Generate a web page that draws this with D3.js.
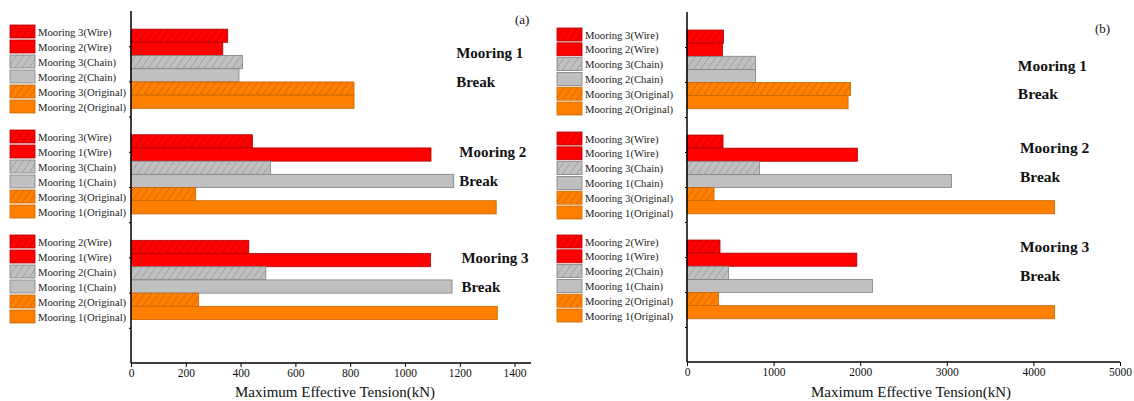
<!DOCTYPE html>
<html>
<head>
<meta charset="utf-8">
<script src="https://cdn.jsdelivr.net/npm/d3@7"></script>
<style>
  html, body { margin: 0; padding: 0; background: #fff; }
  svg text { font-family: "Liberation Serif", "Times New Roman", Times, serif; }
</style>
</head>
<body>
<svg id="chart" width="1134" height="401"></svg>
<script>
// ---- data ----------------------------------------------------------------
// Bar labels per break case (top to bottom inside each group)
const groupLabels = [
  ["Mooring 3(Wire)", "Mooring 2(Wire)", "Mooring 3(Chain)", "Mooring 2(Chain)", "Mooring 3(Original)", "Mooring 2(Original)"],
  ["Mooring 3(Wire)", "Mooring 1(Wire)", "Mooring 3(Chain)", "Mooring 1(Chain)", "Mooring 3(Original)", "Mooring 1(Original)"],
  ["Mooring 2(Wire)", "Mooring 1(Wire)", "Mooring 2(Chain)", "Mooring 1(Chain)", "Mooring 2(Original)", "Mooring 1(Original)"]
];
const breakCases = ["Mooring 1", "Mooring 2", "Mooring 3"];

// Maximum effective tension (kN), panel (a)
const tensionA = [
  [353, 335, 407, 394, 814, 814],
  [443, 1095, 509, 1178, 236, 1333],
  [430, 1093, 492, 1172, 247, 1337]
];
// Maximum effective tension (kN), panel (b)
const tensionB = [
  [421, 409, 790, 790, 1888, 1860],
  [416, 1968, 836, 3055, 312, 4245],
  [381, 1961, 478, 2142, 363, 4245]
];

const ticksA = [0, 200, 400, 600, 800, 1000, 1200, 1400];
const ticksB = [0, 1000, 2000, 3000, 4000, 5000];
const yTicks = [1, 2, 3, 4, 5, 6, 7, 8, 9];
const groupCenters = [8.36, 5.36, 2.36];   // y position of each break case
const axisTitle = "Maximum Effective Tension(kN)";

// ---- styles --------------------------------------------------------------
const FONT = "'Liberation Serif', 'Times New Roman', Times, serif";
const kindStyle = {
  Wire:     { fill: "#ff0000", stroke: "#b40000", hatch: "#c00000" },
  Chain:    { fill: "#c0c0c0", stroke: "#808080", hatch: "#969696" },
  Original: { fill: "#ff8000", stroke: "#c86400", hatch: "#c86400" }
};
const kindOf = label => label.match(/\((\w+)\)/)[1];
const barStep = 0.375;   // bar thickness in y units

const svg = d3.select("#chart").attr("font-family", FONT);
svg.append("rect").attr("width", 1134).attr("height", 401).attr("fill", "#fff");

// hatch patterns ("/" diagonals)
const defs = svg.append("defs");
Object.entries(kindStyle).forEach(([k, s]) => {
  const p = defs.append("pattern")
    .attr("id", "hatch-" + k)
    .attr("patternUnits", "userSpaceOnUse")
    .attr("width", 7).attr("height", 10);
  p.append("rect").attr("width", 7).attr("height", 10).attr("fill", s.fill);
  p.append("path")
    .attr("d", "M0,10 L7,0 M-7,10 L0,0 M7,10 L14,0")
    .attr("stroke", s.hatch).attr("stroke-width", 0.8).attr("fill", "none");
});

function fillFor(label, i) {
  const k = kindOf(label);
  return i % 2 === 0 ? "url(#hatch-" + k + ")" : kindStyle[k].fill;
}

function drawPanel(cfg) {
  const x = d3.scaleLinear().domain(cfg.xDomain).range([cfg.x0, cfg.x1]);
  const y = d3.scaleLinear().domain([0, 10]).range([cfg.yBottom, cfg.yTop]);
  const g = svg.append("g");

  // bars
  const rows = [];
  groupLabels.forEach((labels, gi) => {
    labels.forEach((lab, i) => {
      rows.push({ gi, i, lab, v: cfg.values[gi][i],
        yTopVal: groupCenters[gi] + (3 - i) * barStep });
    });
  });
  g.selectAll("rect.bar").data(rows).enter().append("rect")
    .attr("class", "bar")
    .attr("x", x(0))
    .attr("y", d => y(d.yTopVal))
    .attr("width", d => x(d.v) - x(0))
    .attr("height", d => y(d.yTopVal - barStep) - y(d.yTopVal))
    .attr("fill", d => fillFor(d.lab, d.i))
    .attr("stroke", d => kindStyle[kindOf(d.lab)].stroke)
    .attr("stroke-width", 0.8);

  // x axis
  const xAxis = d3.axisBottom(x).tickValues(cfg.xTicks).tickSize(4).tickPadding(2)
    .tickFormat(d3.format("d"));
  const gx = g.append("g").attr("transform", `translate(0,${cfg.yBottom})`).call(xAxis)
    .attr("font-family", FONT);
  gx.select(".domain").attr("stroke", "#000").attr("stroke-width", 1.5)
    .attr("d", `M${cfg.x0},0H${cfg.x1}`);
  gx.selectAll(".tick line").attr("stroke", "#000");
  gx.selectAll(".tick text").attr("font-size", 11.5).attr("fill", "#111")
    .attr("font-family", FONT);

  // y axis (unlabelled ticks)
  const yAxis = d3.axisLeft(y).tickValues(yTicks).tickSize(2).tickFormat("");
  const gy = g.append("g").attr("transform", `translate(${cfg.x0},0)`).call(yAxis);
  gy.select(".domain").attr("stroke", "#000").attr("stroke-width", 1.5)
    .attr("d", `M0,${cfg.yTop}V${cfg.yBottom}`);
  gy.selectAll(".tick line").attr("stroke", "#000");

  // axis title
  g.append("text").attr("x", cfg.titleX).attr("y", 397)
    .attr("text-anchor", "middle").attr("font-size", 15).attr("fill", "#111")
    .attr("font-family", FONT)
    .text(axisTitle);

  // panel tag
  g.append("text").attr("x", cfg.tagX).attr("y", cfg.tagY)
    .attr("font-size", 13).attr("fill", "#111").attr("font-family", FONT).text(cfg.tag);

  // break-case annotations
  breakCases.forEach((name, gi) => {
    const a = cfg.notes[gi];
    g.append("text").attr("x", x(a[0])).attr("y", y(a[1]))
      .attr("font-size", cfg.noteSize).attr("font-weight", "bold").attr("fill", "#111")
      .attr("font-family", FONT)
      .text(name);
    g.append("text").attr("x", x(a[0])).attr("y", y(a[2]))
      .attr("font-size", cfg.noteSize).attr("font-weight", "bold").attr("fill", "#111")
      .attr("font-family", FONT)
      .text("Break");
  });

  // legends, one per break case
  groupLabels.forEach((labels, gi) => {
    const lg = g.append("g")
      .attr("transform", `translate(${cfg.legendX},${cfg.legendY[gi]})`);
    labels.forEach((lab, i) => {
      const k = kindOf(lab);
      lg.append("rect").attr("x", 0).attr("y", i * cfg.legendStep)
        .attr("width", 25).attr("height", 13)
        .attr("fill", fillFor(lab, i))
        .attr("stroke", kindStyle[k].stroke).attr("stroke-width", 0.8);
      lg.append("text").attr("x", 28).attr("y", i * cfg.legendStep + 10.5)
        .attr("font-size", 10.7).attr("fill", "#222").attr("font-family", FONT).text(lab);
    });
  });
}

drawPanel({
  values: tensionA, xDomain: [0, 1460], xTicks: ticksA,
  x0: 131, x1: 531, yTop: 11, yBottom: 363,
  titleX: 335, tag: "(a)", tagX: 515, tagY: 24,
  notes: [[1187, 8.66, 7.85], [1198, 5.86, 5.04], [1206, 2.84, 2.02]],
  noteSize: 15,
  legendX: 10, legendY: [25, 130, 235], legendStep: 15
});

drawPanel({
  values: tensionB, xDomain: [0, 5000], xTicks: ticksB,
  x0: 687, x1: 1120, yTop: 12, yBottom: 362,
  titleX: 911, tag: "(b)", tagX: 1095, tagY: 33,
  notes: [[3820, 8.31, 7.51], [3845, 5.97, 5.14], [3845, 3.13, 2.31]],
  noteSize: 15.5,
  legendX: 557, legendY: [28, 132, 235], legendStep: 14.8
});
</script>
</body>
</html>
